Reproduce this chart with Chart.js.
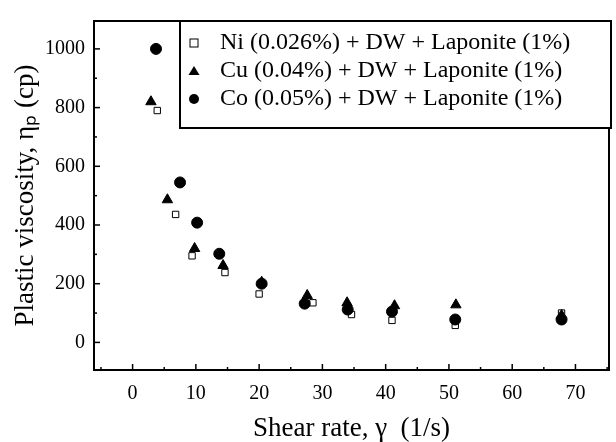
<!DOCTYPE html>
<html>
<head>
<meta charset="utf-8">
<script src="https://cdn.jsdelivr.net/npm/chart.js@4.4.0/dist/chart.umd.min.js"></script>
<style>
  html, body { margin: 0; padding: 0; background: #fff; }
</style>
</head>
<body>
<canvas id="viscChart" width="616" height="442"></canvas>
<script>
// Shear rate (1/s) and plastic viscosity (cp) for each nanofluid
const niShear = [3.9, 6.8, 9.4, 14.6, 20.0, 28.5, 34.6, 41.0, 51.0, 67.8];
const niVisc  = [790, 436, 295, 238, 165, 135, 95, 75, 58, 100];

const cuShear = [2.9, 5.5, 9.8, 14.3, 20.4, 27.6, 33.9, 41.4, 51.1, 67.8];
const cuVisc  = [820, 486, 320, 262, 205, 160, 135, 125, 128, 92];

const coShear = [3.7, 7.5, 10.2, 13.7, 20.4, 27.2, 34.0, 41.0, 51.0, 67.8];
const coVisc  = [1000, 545, 408, 302, 200, 132, 112, 105, 78, 78];

const seriesLabels = [
  "Ni (0.026%) + DW + Laponite (1%)",
  "Cu (0.04%) + DW + Laponite (1%)",
  "Co (0.05%) + DW + Laponite (1%)"
];

const xTicks = [0, 10, 20, 30, 40, 50, 60, 70];
const yTicks = [0, 200, 400, 600, 800, 1000];

const toPoints = (xs, ys) => xs.map((x, i) => ({ x: x, y: ys[i] }));

// frame, inward ticks and boxed legend
const framePlugin = {
  id: "frame",
  afterDraw(chart) {
    const ctx = chart.ctx;
    const area = chart.chartArea;
    const xs = chart.scales.x;
    const ys = chart.scales.y;
    ctx.save();
    ctx.strokeStyle = "#000";

    // ticks pointing into the plot
    ctx.lineWidth = 1.5;
    for (let v = -5; v <= 75; v += 5) {
      const px = xs.getPixelForValue(v);
      if (px < area.left || px > area.right) continue;
      const len = v % 10 === 0 ? 6 : 3;
      ctx.beginPath();
      ctx.moveTo(px, area.bottom);
      ctx.lineTo(px, area.bottom - len);
      ctx.stroke();
    }
    for (let v = 0; v <= 1000; v += 100) {
      const py = ys.getPixelForValue(v);
      const len = v % 200 === 0 ? 6 : 3;
      ctx.beginPath();
      ctx.moveTo(area.left, py);
      ctx.lineTo(area.left + len, py);
      ctx.stroke();
    }

    ctx.lineWidth = 2;
    ctx.strokeRect(area.left, area.top, area.right - area.left, area.bottom - area.top);

    // legend box
    const box = { left: 180, top: 21, right: 611, bottom: 128 };
    ctx.fillStyle = "#fff";
    ctx.fillRect(box.left, box.top, box.right - box.left, box.bottom - box.top);
    ctx.strokeRect(box.left, box.top, box.right - box.left, box.bottom - box.top);

    const rows = [43, 71, 99];
    ctx.font = "24px 'Liberation Serif', 'DejaVu Serif', serif";
    ctx.textBaseline = "middle";
    ctx.textAlign = "left";
    rows.forEach((ry, i) => {
      const mx = 194;
      ctx.fillStyle = "#000";
      ctx.lineWidth = 1;
      if (i === 0) {
        ctx.fillStyle = "#fff";
        ctx.fillRect(mx - 4, ry - 4, 8, 8);
        ctx.strokeRect(mx - 4, ry - 4, 8, 8);
      } else if (i === 1) {
        ctx.beginPath();
        ctx.moveTo(mx, ry - 5);
        ctx.lineTo(mx + 5.5, ry + 4);
        ctx.lineTo(mx - 5.5, ry + 4);
        ctx.closePath();
        ctx.fill();
      } else {
        ctx.beginPath();
        ctx.arc(mx, ry, 5, 0, Math.PI * 2);
        ctx.fill();
      }
      ctx.fillStyle = "#000";
      ctx.fillText(seriesLabels[i], 220, ry);
    });
    ctx.restore();
  }
};

const chartCanvas = document.getElementById("viscChart");

const viscChart = new Chart(chartCanvas, {
  type: "scatter",
  data: {
    datasets: [
      {
        label: seriesLabels[0],
        data: toPoints(niShear, niVisc),
        pointStyle: "rect",
        pointRadius: 4.5,
        backgroundColor: "#fff",
        borderColor: "#000",
        borderWidth: 1,
        order: 3
      },
      {
        label: seriesLabels[1],
        data: toPoints(cuShear, cuVisc),
        pointStyle: "triangle",
        pointRadius: 6,
        backgroundColor: "#000",
        borderColor: "#000",
        borderWidth: 1,
        order: 2
      },
      {
        label: seriesLabels[2],
        data: toPoints(coShear, coVisc),
        pointStyle: "circle",
        pointRadius: 5.5,
        backgroundColor: "#000",
        borderColor: "#000",
        borderWidth: 1,
        order: 1
      }
    ]
  },
  options: {
    responsive: false,
    animation: false,
    layout: { padding: { top: 15, right: 1, left: 0, bottom: 0 } },
    plugins: {
      legend: { display: false },
      tooltip: { enabled: false }
    },
    scales: {
      x: {
        type: "linear",
        min: -6.1,
        max: 75.3,
        afterBuildTicks: (scale) => { scale.ticks = xTicks.map(v => ({ value: v })); },
        afterFit: (scale) => { scale.height = 72; },
        grid: { display: false, drawTicks: false },
        border: { display: false },
        ticks: {
          color: "#000",
          padding: 12,
          maxRotation: 0,
          callback: (value) => String(value),
          font: { family: "'Liberation Serif', serif", size: 20 }
        },
        title: {
          display: true,
          text: "Shear rate, γ  (1/s)",
          color: "#000",
          padding: 0,
          font: { family: "'Liberation Serif', serif", size: 27, lineHeight: 1 }
        }
      },
      y: {
        type: "linear",
        min: -94,
        max: 1095,
        afterBuildTicks: (scale) => { scale.ticks = yTicks.map(v => ({ value: v })); },
        afterFit: (scale) => { scale.width = 94; },
        grid: { display: false, drawTicks: false },
        border: { display: false },
        ticks: {
          color: "#000",
          padding: 9,
          callback: (value) => String(value),
          font: { family: "'Liberation Serif', serif", size: 20 }
        },
        title: {
          display: true,
          text: "Plastic viscosity, ηₚ (cp)",
          color: "#000",
          padding: { top: 12, bottom: 0 },
          font: { family: "'Liberation Serif', serif", size: 27, lineHeight: 1 }
        }
      }
    }
  },
  plugins: [framePlugin]
});
</script>
</body>
</html>
